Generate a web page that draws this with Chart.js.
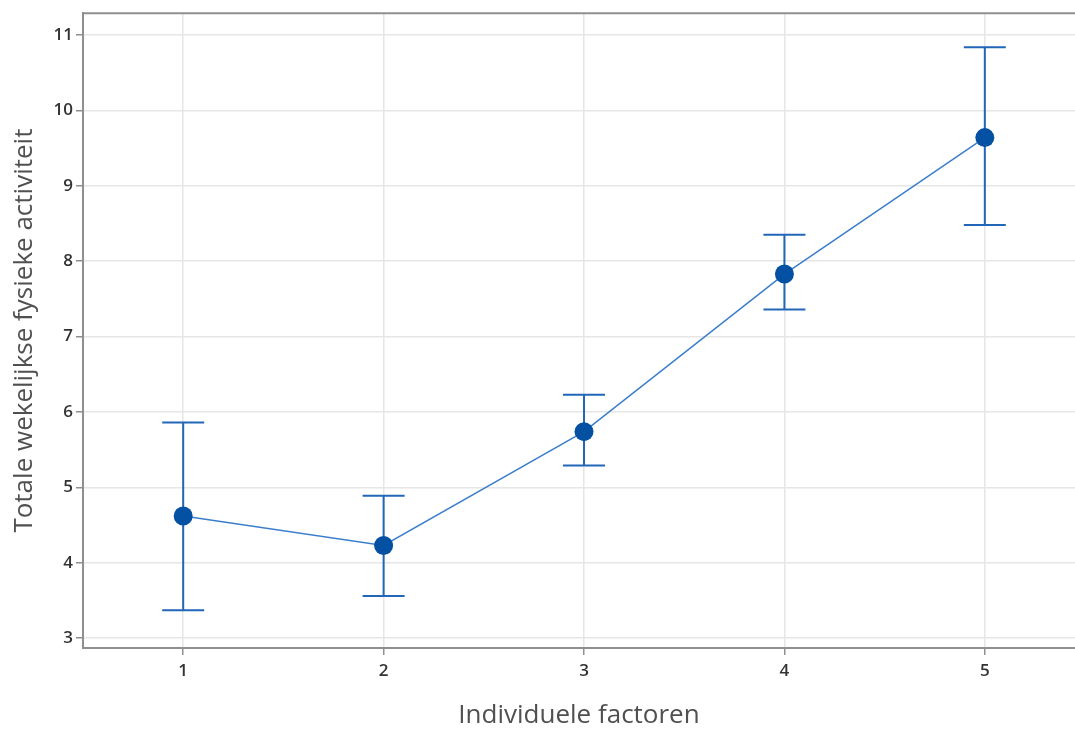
<!DOCTYPE html>
<html>
<head>
<meta charset="utf-8">
<script src="https://cdn.jsdelivr.net/npm/chart.js@4"></script>
<style>
  html, body { margin: 0; padding: 0; background: #fff; overflow: hidden; }
  #wrap { width: 1075px; height: 729px; }
  canvas { display: block; }
</style>
</head>
<body>
<div id="wrap"><canvas id="chart"></canvas></div>
<script>
const factors = [1, 2, 3, 4, 5];
const means = [4.62, 4.23, 5.74, 7.83, 9.64];
const upper = [5.86, 4.89, 6.23, 8.35, 10.84];
const lower = [3.37, 3.56, 5.29, 7.36, 8.48];
const yTicks = [3, 4, 5, 6, 7, 8, 9, 10, 11];

const gridGray = '#e6e6e6';
const axisGray = '#8f8f8f';
const textDark = '#333333';

const errorBars = {
  id: 'errorBars',
  beforeDatasetsDraw(chart) {
    const { ctx, scales: { x, y } } = chart;
    ctx.save();
    ctx.strokeStyle = '#2266b8';
    ctx.lineWidth = 2;
    factors.forEach((f, i) => {
      const px = x.getPixelForValue(f);
      const top = y.getPixelForValue(upper[i]);
      const bot = y.getPixelForValue(lower[i]);
      ctx.beginPath();
      ctx.moveTo(px, top);
      ctx.lineTo(px, bot);
      ctx.moveTo(px - 21, top);
      ctx.lineTo(px + 21, top);
      ctx.moveTo(px - 21, bot);
      ctx.lineTo(px + 21, bot);
      ctx.stroke();
    });
    ctx.restore();
  }
};

const topBorder = {
  id: 'topBorder',
  afterDraw(chart) {
    const { ctx, chartArea: { left, top, right } } = chart;
    ctx.save();
    ctx.strokeStyle = axisGray;
    ctx.lineWidth = 2;
    ctx.beginPath();
    ctx.moveTo(left, top);
    ctx.lineTo(right, top);
    ctx.stroke();
    ctx.restore();
  }
};

new Chart(document.getElementById('chart'), {
  type: 'line',
  plugins: [errorBars, topBorder],
  data: {
    datasets: [{
      data: factors.map((f, i) => ({ x: f, y: means[i] })),
      borderColor: '#3b7fcc',
      borderWidth: 1.5,
      pointRadius: 9.5,
      pointHoverRadius: 9.5,
      pointBackgroundColor: '#0451a3',
      pointBorderColor: '#0451a3',
      pointBorderWidth: 0,
      tension: 0
    }]
  },
  options: {
    responsive: true,
    maintainAspectRatio: false,
    animation: false,
    layout: { autoPadding: false, padding: { top: 12, right: 0, left: 0, bottom: 0 } },
    scales: {
      x: {
        type: 'linear',
        min: 0.5,
        max: 5.45,
        grid: { color: gridGray, lineWidth: 1.5, tickColor: axisGray, tickLength: 7 },
        border: { color: axisGray, width: 2 },
        ticks: {
          stepSize: 1,
          includeBounds: false,
          padding: 6,
          color: textDark,
          font: { family: 'Open Sans', size: 17, weight: 600 }
        },
        title: {
          display: true,
          text: 'Individuele factoren',
          color: '#505050',
          padding: { top: 0, bottom: 0 },
          font: { family: 'Open Sans', size: 26, lineHeight: 1 }
        },
        afterFit: (axis) => { axis.height = 81; }
      },
      y: {
        min: 2.87,
        max: 11.29,
        afterBuildTicks: (axis) => { axis.ticks = yTicks.map(v => ({ value: v })); },
        grid: { color: gridGray, lineWidth: 1.5, tickColor: axisGray, tickLength: 7 },
        border: { color: axisGray, width: 2 },
        ticks: {
          padding: 3,
          color: textDark,
          font: { family: 'Open Sans', size: 17, weight: 600 }
        },
        title: {
          display: true,
          text: 'Totale wekelijkse fysieke activiteit',
          color: '#505050',
          padding: { top: 12, bottom: 0 },
          font: { family: 'Open Sans', size: 26, lineHeight: 1 }
        },
        afterFit: (axis) => { axis.width = 83; }
      }
    },
    plugins: {
      legend: { display: false },
      tooltip: { enabled: false }
    }
  }
});
</script>
</body>
</html>
